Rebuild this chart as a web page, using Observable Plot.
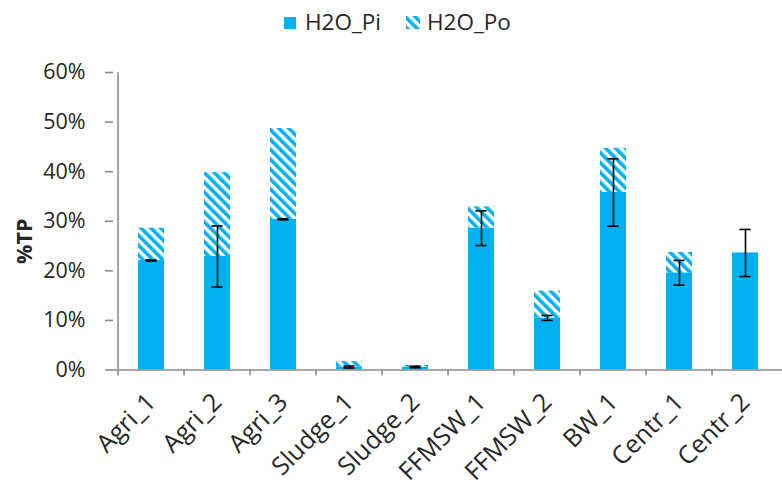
<!DOCTYPE html>
<html><head><meta charset="utf-8">
<script src="https://cdn.jsdelivr.net/npm/d3@7"></script>
<script src="https://cdn.jsdelivr.net/npm/@observablehq/plot@0.6"></script>
<style>
body{margin:0;background:#fff;}
svg{display:block;}
</style></head><body>
<div id="legend"></div>
<div id="chart"></div>
<script>
const categories = ["Agri_1","Agri_2","Agri_3","Sludge_1","Sludge_2","FFMSW_1","FFMSW_2","BW_1","Centr_1","Centr_2"];
const piValues  = [22.1, 22.9, 30.4, 0.6, 0.6, 28.6, 10.5, 35.8, 19.6, 23.6];
const poValues  = [6.5, 16.9, 18.3, 1.1, 0.3, 4.3, 5.4, 8.9, 4.1, 0];
const errValues = [0.1, 6.15, 0.1, 0.2, 0.15, 3.5, 0.5, 6.8, 2.5, 4.75];
const yTicks = [0, 10, 20, 30, 40, 50, 60];
const seriesNames = ["H2O_Pi", "H2O_Po"];

const BLUE = "#00B0F0", AXIS = "#8c8c8c", TEXT = "#262626";
const FONT = '"Open Sans", sans-serif';
const W = 782, H = 446, mL = 113, mR = 0, mT = 32, mB = 116.5;
const step = (W - mL - mR) / categories.length;

const data = categories.map((c, i) => ({cat: c, pi: piValues[i], po: poValues[i], err: errValues[i]}));

function addHatch(svgSel, id) {
  let defs = svgSel.select("defs");
  if (defs.empty()) defs = svgSel.insert("defs", ":first-child");
  const p = defs.append("pattern").attr("id", id).attr("patternUnits", "userSpaceOnUse")
    .attr("width", 7).attr("height", 7).attr("patternTransform", "rotate(-45)");
  p.append("rect").attr("width", 7).attr("height", 7).attr("fill", "white");
  p.append("rect").attr("width", 3.6).attr("height", 7).attr("fill", BLUE);
}

// legend
const leg = d3.select("#legend").append("svg").attr("width", W).attr("height", 40)
  .style("font-family", FONT).style("font-size", "22.5px");
addHatch(leg, "hatchL");
leg.append("rect").attr("x", 284).attr("y", 17).attr("width", 12).attr("height", 12).attr("fill", BLUE);
leg.append("text").attr("x", 305).attr("y", 30).attr("fill", TEXT).text(seriesNames[0]);
leg.append("rect").attr("x", 406).attr("y", 16).attr("width", 14).attr("height", 13).attr("fill", "url(#hatchL)");
leg.append("text").attr("x", 427).attr("y", 30).attr("fill", TEXT).text(seriesNames[1]);

const plot = Plot.plot({
  width: W, height: H,
  marginLeft: mL, marginRight: mR, marginTop: mT, marginBottom: mB,
  style: {fontFamily: FONT, fontSize: "21.5px", color: TEXT, background: "white", overflow: "visible"},
  x: {domain: categories, padding: 0, label: null},
  y: {domain: [0, 60], label: null},
  marks: [
    Plot.barY(data, {x: "cat", y1: 0, y2: "pi", fill: BLUE, insetLeft: 20, insetRight: 20}),
    Plot.barY(data.filter(d => d.po > 0), {x: "cat", y1: "pi", y2: d => d.pi + d.po, fill: "url(#hatch)", insetLeft: 20, insetRight: 20}),
    Plot.ruleX(data, {x: "cat", y1: d => d.pi - d.err, y2: d => d.pi + d.err, stroke: "black", strokeWidth: 1.6}),
    Plot.tickY(data, {x: "cat", y: d => d.pi - d.err, stroke: "black", strokeWidth: 1.6, inset: (step - 12) / 2}),
    Plot.tickY(data, {x: "cat", y: d => d.pi + d.err, stroke: "black", strokeWidth: 1.6, inset: (step - 12) / 2}),
    Plot.ruleY([0], {stroke: AXIS, strokeWidth: 1.6}),
    Plot.ruleX([categories[0]], {dx: -step / 2, y1: 0, y2: 60, stroke: AXIS, strokeWidth: 1.6}),
    Plot.axisY({ticks: yTicks, tickFormat: d => d + "%", tickSize: 8, tickPadding: 20, stroke: AXIS, strokeWidth: 1.6, fill: TEXT, fontSize: 21.5, label: null}),
    Plot.axisX({tickSize: 6, dx: -step / 2, tickFormat: () => "", stroke: AXIS, strokeWidth: 1.6, label: null}),
    Plot.axisX({tickSize: 0, tickRotate: -45, tickPadding: 28, fill: TEXT, fontSize: 25, label: null}),
    Plot.text(["%TP"], {frameAnchor: "left", textAnchor: "middle", dx: -88, dy: 20, rotate: -90, fontWeight: "bold", fontSize: 21.5, fill: TEXT})
  ]
});
addHatch(d3.select(plot), "hatch");
document.getElementById("chart").appendChild(plot);
</script>
</body></html>
